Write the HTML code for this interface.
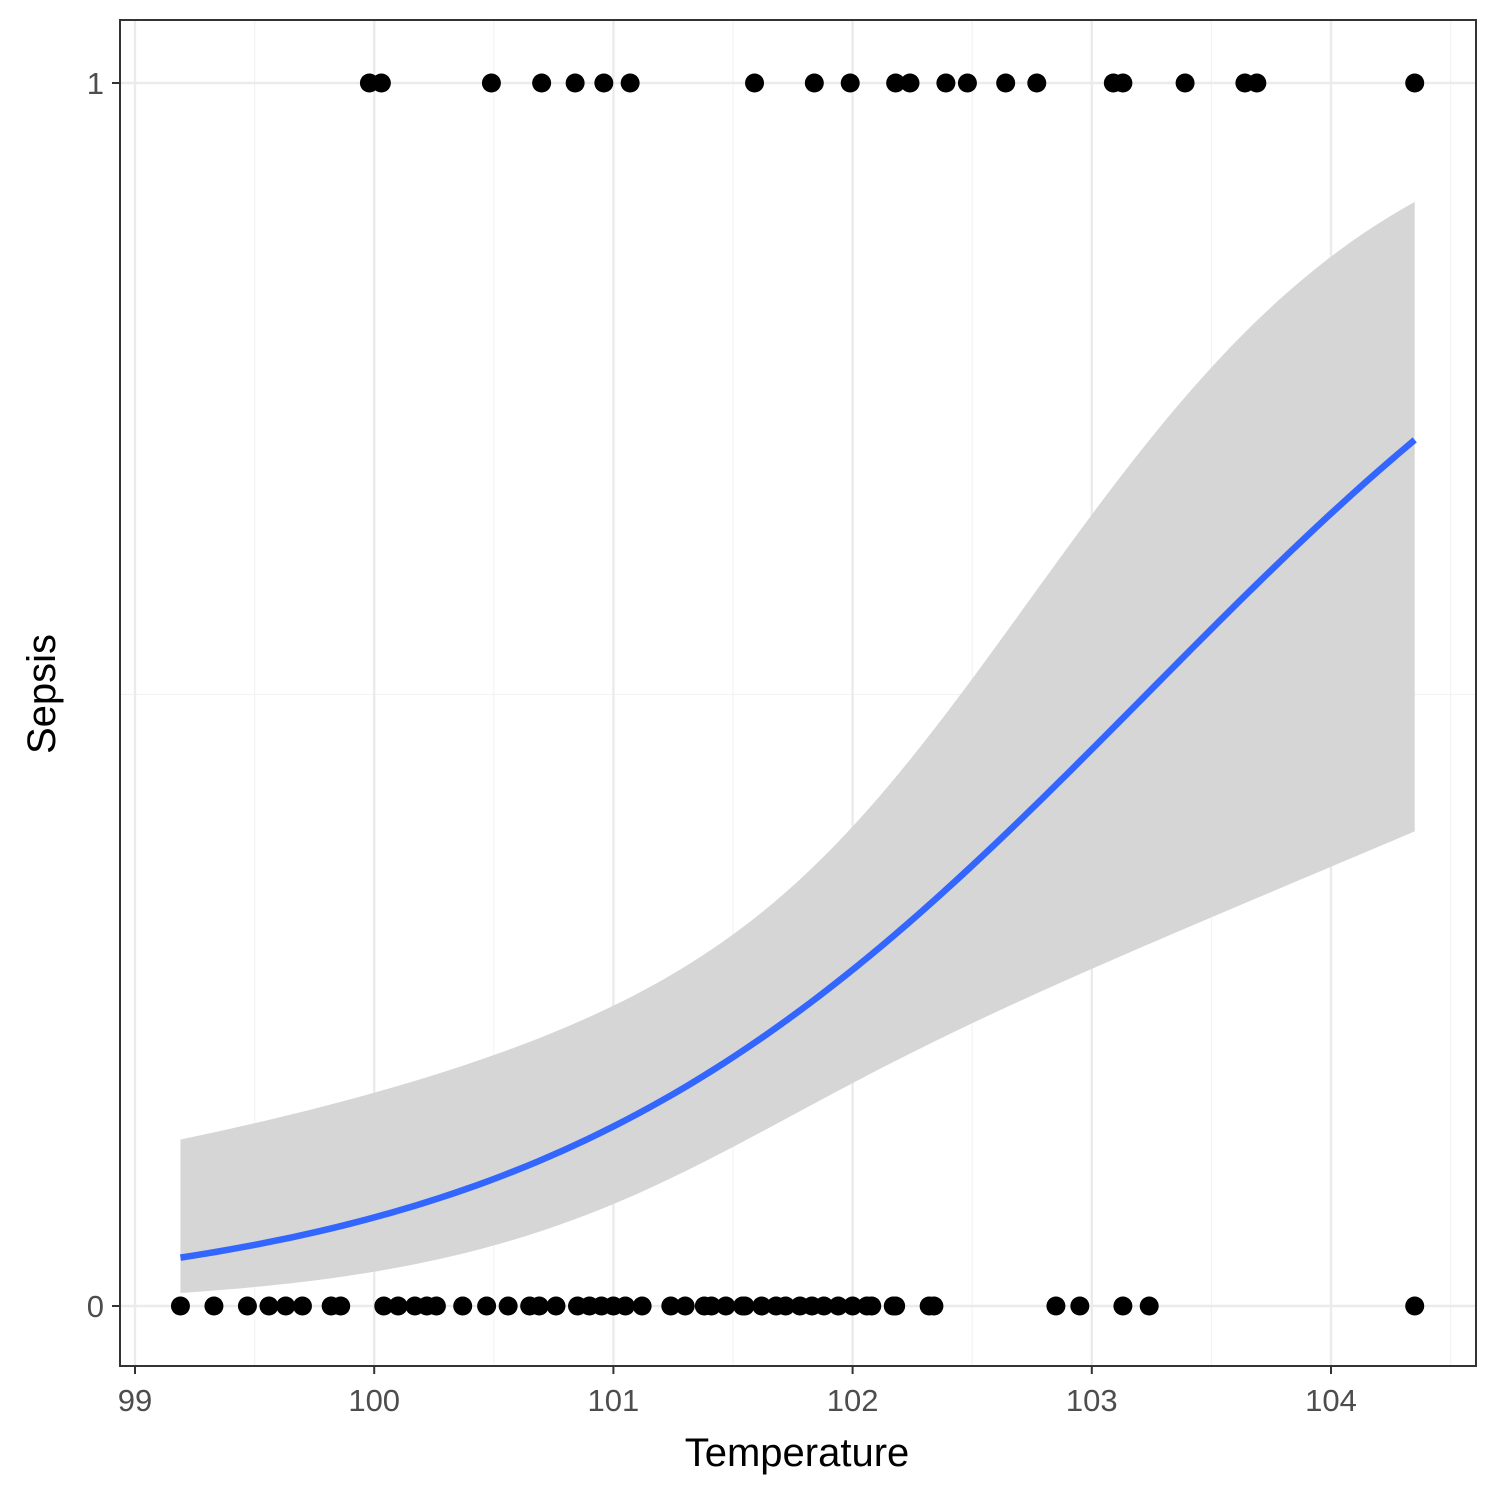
<!DOCTYPE html>
<html><head><meta charset="utf-8"><style>
body{margin:0;background:#fff}
svg{display:block;font-family:"Liberation Sans",Arial,sans-serif}
</style></head><body>
<svg id="chart" width="1500" height="1500" viewBox="0 0 1500 1500">
<rect x="0" y="0" width="1500" height="1500" fill="#fff"/>
<g id="grid"></g>
<g id="band"></g>
<g id="points"></g>
<g id="axes"></g>
<text x="797" y="1466" font-size="40" text-anchor="middle" fill="#000">Temperature</text>
<text transform="translate(55,694) rotate(-90)" font-size="40" text-anchor="middle" fill="#000">Sepsis</text>
</svg>
<script>
const xTicks=[99,100,101,102,103,104];
const xMinor=[99.5,100.5,101.5,102.5,103.5,104.5];
const yTicks=[0,1];
const yMinor=[0.5];
const temps0=[99.19,99.33,99.47,99.56,99.63,99.70,99.82,99.86,100.04,100.10,100.17,100.22,100.26,100.37,100.47,100.56,100.65,100.69,100.76,100.85,100.90,100.95,101.00,101.05,101.12,101.24,101.30,101.38,101.41,101.47,101.54,101.55,101.62,101.68,101.72,101.78,101.83,101.88,101.94,102.00,102.06,102.08,102.17,102.18,102.32,102.34,102.85,102.95,103.13,103.24,104.35];
const temps1=[99.98,100.03,100.49,100.70,100.84,100.96,101.07,101.59,101.84,101.99,102.18,102.24,102.39,102.48,102.64,102.77,103.09,103.13,103.39,103.64,103.69,104.35];
const fitIntercept=-81.55, fitSlope=0.79, seCenter=101.77;
const NS="http://www.w3.org/2000/svg";
const PL=120,PR=1476,PT=20,PB=1366;
const X=t=>135+(t-99)*239.2;
const Y=p=>1306-p*1223;
function mk(tag,attrs,parent){const e=document.createElementNS(NS,tag);for(const k in attrs)e.setAttribute(k,attrs[k]);parent.appendChild(e);return e;}
const grid=document.getElementById('grid');
xMinor.forEach(t=>{const l=mk('line',{x1:X(t),x2:X(t),y1:PT,y2:PB,stroke:'#f3f3f3','stroke-width':1.2},grid);

});
yMinor.forEach(v=>{const l=mk('line',{x1:PL,x2:PR,y1:Y(v),y2:Y(v),stroke:'#f3f3f3','stroke-width':1.2},grid);

});
xTicks.forEach(t=>{const l=mk('line',{x1:X(t),x2:X(t),y1:PT,y2:PB,stroke:'#ebebeb','stroke-width':2.4},grid);

});
yTicks.forEach(v=>{const l=mk('line',{x1:PL,x2:PR,y1:Y(v),y2:Y(v),stroke:'#ebebeb','stroke-width':2.4},grid);

});
const inv=z=>1/(1+Math.exp(-z));
const lo=99.19,hi=104.35;let up=[],dn=[],mid=[];
for(let i=0;i<=100;i++){const t=lo+(hi-lo)*i/100;const z=fitIntercept+fitSlope*t;const hw=Math.sqrt(0.27+0.23*(t-seCenter)*(t-seCenter));
up.push(X(t)+','+Y(inv(z+hw)));dn.push(X(t)+','+Y(inv(z-hw)));mid.push(X(t)+','+Y(inv(z)));}
const band=document.getElementById('band');
const bp=mk('polygon',{points:up.concat(dn.reverse()).join(' '),fill:'#d6d6d6'},band);


const fl=mk('polyline',{points:mid.join(' '),fill:'none',stroke:'#3366ff','stroke-width':6.5},band);


const pts=document.getElementById('points');
temps0.forEach(t=>{const c=mk('circle',{cx:X(t),cy:Y(0),r:9.5,fill:'#000'},pts);

});
temps1.forEach(t=>{const c=mk('circle',{cx:X(t),cy:Y(1),r:9.5,fill:'#000'},pts);

});
const axes=document.getElementById('axes');
const fr=mk('rect',{x:PL,y:PT,width:PR-PL,height:PB-PT,fill:'none',stroke:'#333','stroke-width':2},axes);


xTicks.forEach(t=>{const l=mk('line',{x1:X(t),x2:X(t),y1:PB,y2:PB+8,stroke:'#333','stroke-width':2},axes);


const tx=mk('text',{x:X(t),y:PB+45,'font-size':31,'text-anchor':'middle',fill:'#4d4d4d'},axes);tx.textContent=t;

});
yTicks.forEach(v=>{const l=mk('line',{x1:PL-8,x2:PL,y1:Y(v),y2:Y(v),stroke:'#333','stroke-width':2},axes);


const tx=mk('text',{x:PL-16,y:Y(v)+11,'font-size':31,'text-anchor':'end',fill:'#4d4d4d'},axes);tx.textContent=v;

});
</script>
</body></html>
